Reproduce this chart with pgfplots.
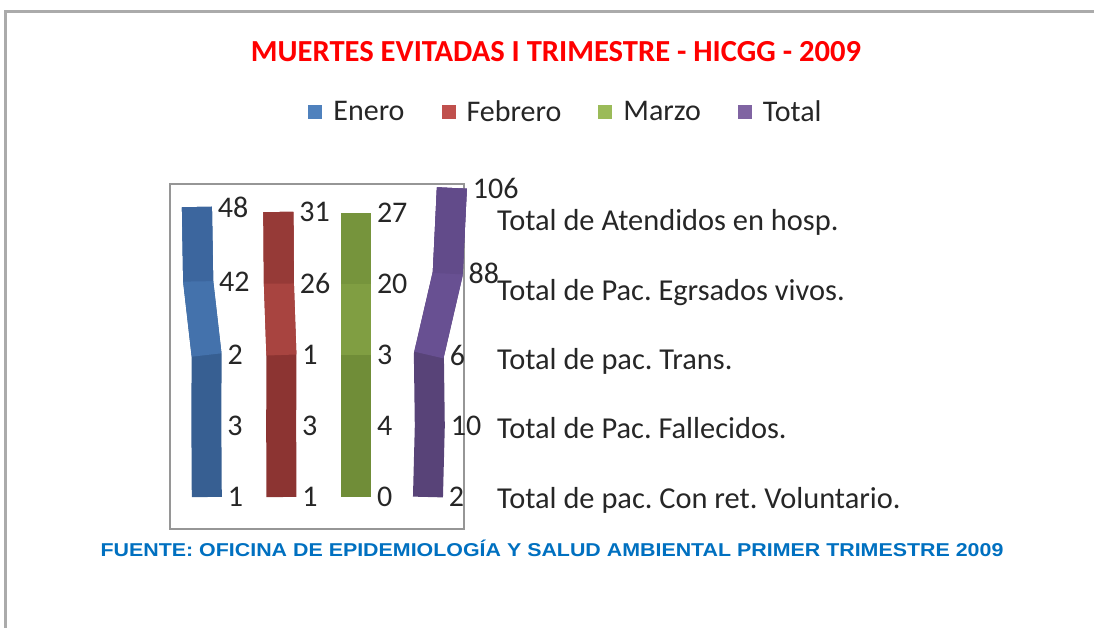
\documentclass[border=0pt]{standalone}
\usepackage{pgfplots}
\pgfplotsset{compat=1.18}
\usepackage{pgfplotstable}
\usepackage{fontspec}
\setmainfont{Carlito}
\newfontfamily\arialfont{Liberation Sans}
\frenchspacing

\definecolor{legEnero}{RGB}{79,129,189}
\definecolor{legFeb}{RGB}{192,80,77}
\definecolor{legMar}{RGB}{155,187,89}
\definecolor{legTot}{RGB}{128,100,162}
\definecolor{eneD}{RGB}{55,95,146}
\definecolor{eneL}{RGB}{68,114,172}
\definecolor{eneM}{RGB}{60,102,158}
\definecolor{febD}{RGB}{140,52,50}
\definecolor{febL}{RGB}{168,68,64}
\definecolor{febM}{RGB}{150,58,55}
\definecolor{marD}{RGB}{112,141,56}
\definecolor{marL}{RGB}{128,158,66}
\definecolor{marM}{RGB}{118,148,60}
\definecolor{totD}{RGB}{88,67,120}
\definecolor{totL}{RGB}{104,80,146}
\definecolor{totM}{RGB}{98,75,138}
\definecolor{valgray}{RGB}{38,38,38}
\definecolor{footblue}{RGB}{0,112,192}
\definecolor{framegray}{RGB}{150,150,150}

% category index i, value v
\pgfplotstableread{
i v
0 48
1 42
2 2
3 3
4 1
}\enero
\pgfplotstableread{
i v
0 31
1 26
2 1
3 3
4 1
}\febrero
\pgfplotstableread{
i v
0 27
1 20
2 3
3 4
4 0
}\marzo
\pgfplotstableread{
i v
0 106
1 88
2 6
3 10
4 2
}\total

% #1 table, #2 x0, #3 x slope, #4 y slope, #5 dark, #6 light, #7 medium
\newcommand{\ribbon}[7]{%
  \addplot[forget plot, draw=#5, line width=30pt, line cap=butt, line join=miter, mark=none,
    nodes near coords, point meta=explicit,
    nodes near coords style={anchor=west, xshift=6pt, inner sep=0pt,
      font=\fontsize{30}{34}\selectfont, text=valgray}]
    table[x expr={#2+#3*\thisrow{v}}, y expr={213+71*\thisrow{i}-#4*\thisrow{v}*max(0,2-\thisrow{i})}, meta=v] {#1};
  \addplot[forget plot, draw=#6, line width=30pt, line cap=butt, line join=miter, mark=none,
    skip coords between index={3}{5}]
    table[x expr={#2+#3*\thisrow{v}}, y expr={213+71*\thisrow{i}-#4*\thisrow{v}*max(0,2-\thisrow{i})}] {#1};
  \addplot[forget plot, draw=#7, line width=30pt, line cap=butt, line join=miter, mark=none,
    skip coords between index={2}{5}]
    table[x expr={#2+#3*\thisrow{v}}, y expr={213+71*\thisrow{i}-#4*\thisrow{v}*max(0,2-\thisrow{i})}] {#1};
}

\begin{document}
\begin{tikzpicture}
\begin{axis}[
  width=1094pt, height=628pt, scale only axis,
  xmin=0, xmax=1094, ymin=0, ymax=628, y dir=reverse,
  hide axis, clip=false,
  /pgf/number format/assume math mode=true,
  legend image code/.code={\fill[#1] (0pt,-7pt) rectangle (14pt,7pt);},
  legend style={at={(axis cs:566,112)}, anchor=center, draw=none, fill=none,
    inner sep=0pt, font=\fontsize{30}{33}\selectfont, text=valgray,
    /tikz/every odd column/.append style={column sep=9pt},
    /tikz/every even column/.append style={column sep=35pt}},
  legend columns=4,
]
% outer border and plot frame
\draw[line width=3pt, color=framegray!80] (axis cs:5.5,700) -- (axis cs:5.5,11.5) -- (axis cs:1200,11.5);
\draw[line width=1.5pt, color=framegray] (axis cs:170,184) rectangle (axis cs:464,529);

\ribbon{\enero}{207}{-0.21}{0.0625}{eneD}{eneL}{eneM}
\ribbon{\febrero}{281.5}{-0.1}{0.016}{febD}{febL}{febM}
\ribbon{\marzo}{356}{0}{0}{marD}{marL}{marM}
\ribbon{\total}{427.5}{0.23}{0.118}{totD}{totL}{totM}

\addlegendimage{fill=legEnero, draw=none}\addlegendentry{Enero}
\addlegendimage{fill=legFeb, draw=none}\addlegendentry{Febrero}
\addlegendimage{fill=legMar, draw=none}\addlegendentry{Marzo}
\addlegendimage{fill=legTot, draw=none}\addlegendentry{Total}

\node[anchor=center, inner sep=0pt, font=\fontsize{30.6}{36}\selectfont\bfseries, text=red]
  at (axis cs:556,52) {MUERTES EVITADAS I TRIMESTRE - HICGG - 2009};

\begin{scope}[every node/.style={anchor=base west, inner sep=0pt, font=\fontsize{30.4}{36}\selectfont, text=valgray}]
\node at (axis cs:497,230) {Total de Atendidos en hosp.};
\node at (axis cs:497,300) {Total de Pac. Egrsados vivos.};
\node at (axis cs:497,369) {Total de pac. Trans.};
\node at (axis cs:497,438) {Total de Pac. Fallecidos.};
\node at (axis cs:497,508) {Total de pac. Con ret. Voluntario.};
\end{scope}

\node[anchor=base, inner sep=0pt, font=\arialfont\bfseries\fontsize{18.6}{20}\selectfont, text=footblue]
  at (axis cs:552,556) {\scalebox{1.15}[1]{FUENTE: OFICINA DE EPIDEMIOLOGÍA Y SALUD AMBIENTAL PRIMER TRIMESTRE 2009}};
\end{axis}
\pgfresetboundingbox
\path (current axis.south west) rectangle (current axis.north east);
\end{tikzpicture}
\end{document}
